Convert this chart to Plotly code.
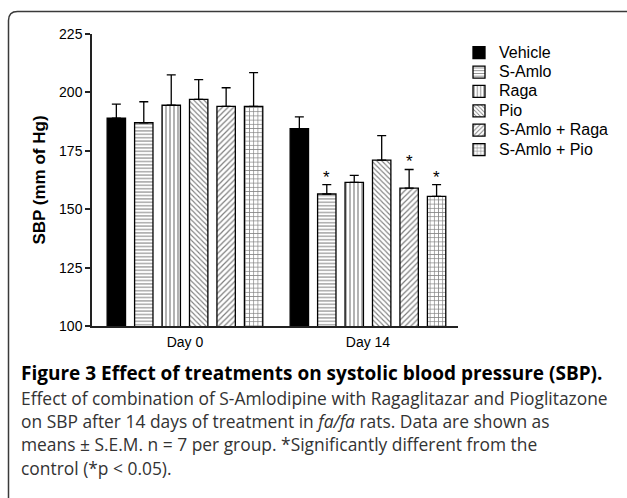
import plotly.graph_objects as go

# ---- data ----
groups = ["Day 0", "Day 14"]
treatments = ["Vehicle", "S-Amlo", "Raga", "Pio", "S-Amlo + Raga", "S-Amlo + Pio"]
day0_mean = [189, 187, 194.5, 197, 194, 194]
day0_sem = [6, 9, 13, 8.5, 8, 14.5]
day14_mean = [184.5, 156.5, 161.5, 171, 159, 155.5]
day14_sem = [5, 4, 3, 10.5, 8, 5]
day14_significant = [False, True, False, False, True, True]
y_ticks = [100, 125, 150, 175, 200, 225]

caption_title = "Figure 3 Effect of treatments on systolic blood pressure (SBP)."
caption_lines = [
    "Effect of combination of S-Amlodipine with Ragaglitazar and Pioglitazone",
    "on SBP after 14 days of treatment in <i>fa/fa</i> rats. Data are shown as",
    "means ± S.E.M. n = 7 per group. *Significantly different from the",
    "control (*p < 0.05).",
]

# ---- styles ----
patterns = ["", "-", "|", "\\", "/", "+"]
pattern_sizes = [4, 3.4, 4, 3.6, 4, 4.2]
W, H = 627, 498
ML, MR, MT, MB = 92, 169, 34, 172
PW, PH = W - ML - MR, H - MT - MB
BARGAP, GROUPGAP = 0.1, 0.33
FONT = "Arial, Liberation Sans, sans-serif"
CAP_FONT = "Open Sans, Noto Sans, sans-serif"


def px_x(px):
    return (px - ML) / PW


def px_y(py):
    return (H - MB - py) / PH


fig = go.Figure()
for i, name in enumerate(treatments):
    if patterns[i]:
        marker = dict(color="white", line=dict(color="black", width=1.3),
                      pattern=dict(shape=patterns[i], fgcolor="black", bgcolor="white",
                                   size=pattern_sizes[i], solidity=0.3))
    else:
        marker = dict(color="black", line=dict(color="black", width=1.3))
    fig.add_trace(go.Bar(
        name=f'<span style="font-size:16px">{name}</span>',
        x=groups, y=[day0_mean[i], day14_mean[i]],
        marker=marker,
        error_y=dict(type="data", symmetric=False,
                     array=[day0_sem[i], day14_sem[i]], arrayminus=[0, 0],
                     color="black", thickness=1.3, width=4.5),
    ))

# significance stars
n = len(treatments)
slot = (1 - BARGAP) / n
for i in range(n):
    if day14_significant[i]:
        fig.add_annotation(x=1 + (i - (n - 1) / 2) * slot, y=day14_mean[i] + day14_sem[i],
                           xref="x", yref="y", text="*", showarrow=False,
                           yanchor="bottom", yshift=-4,
                           font=dict(family=FONT, size=17, color="black"))

# caption
fig.add_annotation(x=px_x(19), y=px_y(373), xref="paper", yref="paper", xanchor="left",
                   yanchor="middle", text="<b>" + caption_title + "</b>", showarrow=False,
                   font=dict(family=CAP_FONT, size=19, color="black"))
for k, line in enumerate(caption_lines):
    fig.add_annotation(x=px_x(19), y=px_y(398 + k * 23.2), xref="paper", yref="paper",
                       xanchor="left", yanchor="middle", text=line, showarrow=False,
                       font=dict(family=CAP_FONT, size=17.4, color="#333333"))

# rounded border (right side runs off the image)
x0, x1 = px_x(8.5), px_x(640)
y0, y1 = px_y(11.5), px_y(520)
rx, ry = 9 / PW, 9 / PH
fig.add_shape(type="path", xref="paper", yref="paper",
              path=(f"M {x0},{y1} L {x0},{y0 - ry} Q {x0},{y0} {x0 + rx},{y0} "
                    f"L {x1 - rx},{y0} Q {x1},{y0} {x1},{y0 - ry} L {x1},{y1}"),
              line=dict(color="#3a3a3a", width=1.5))

fig.update_layout(
    width=W, height=H, margin=dict(l=ML, r=MR, t=MT, b=MB, autoexpand=False),
    paper_bgcolor="white", plot_bgcolor="white",
    barmode="group", bargap=BARGAP, bargroupgap=GROUPGAP,
    font=dict(family=FONT, size=14, color="black"),
    showlegend=True,
    legend=dict(x=px_x(459), y=px_y(38), xanchor="left", yanchor="top",
                font=dict(family=FONT, size=12.6, color="black"),
                tracegroupgap=0, bgcolor="rgba(0,0,0,0)", borderwidth=0),
    xaxis=dict(range=[-0.508, 1.492], showline=True, linecolor="#222", linewidth=1.5,
               ticks="", showgrid=False, zeroline=False, ticklabelstandoff=2,
               tickfont=dict(size=14)),
    yaxis=dict(range=[100, 225], tickvals=y_ticks, showline=True, linecolor="#222",
               linewidth=1.5, ticks="outside", ticklen=5, tickwidth=1.5, tickcolor="#222",
               showgrid=False, zeroline=False, tickfont=dict(size=14),
               title=dict(text="<b>SBP (mm of Hg)</b>", font=dict(size=17), standoff=9)),
)

fig.write_html("out.html", config={"displayModeBar": False},
               post_script="document.body.style.margin='0';")
